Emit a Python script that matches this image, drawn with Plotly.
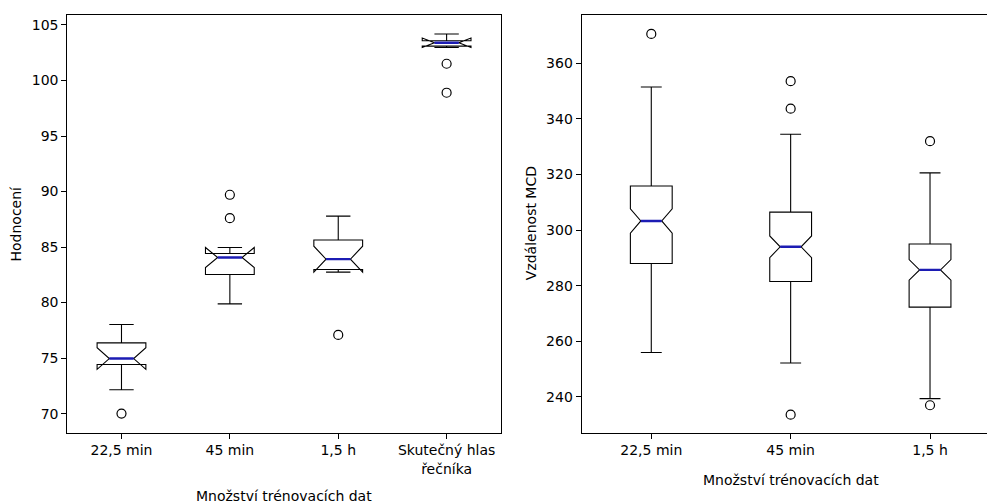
import plotly.graph_objects as go

# ---- Data (left panel: Hodnocení) ----
cats_left = ["22,5 min", "45 min", "1,5 h", "Skutečný hlas<br>řečníka"]
q1_left = [74.42, 82.53, 82.98, 103.1]
med_left = [74.96, 84.06, 83.91, 103.4]
q3_left = [76.37, 84.42, 85.63, 103.58]
lo_left = [72.15, 79.88, 82.75, 103.05]
hi_left = [78.03, 84.42, 87.79, 104.19]
notch_left = [0.97, 0.9, 1.17, 0.43]
out_left_x = ["22,5 min", "45 min", "45 min", "1,5 h",
              "Skutečný hlas<br>řečníka", "Skutečný hlas<br>řečníka"]
out_left_y = [70.0, 89.71, 87.6, 77.09, 101.51, 98.9]

# ---- Data (right panel: Vzdálenost MCD) ----
cats_right = ["22,5 min", "45 min", "1,5 h"]
q1_right = [288.0, 281.5, 272.3]
med_right = [303.3, 294.0, 285.7]
q3_right = [315.9, 306.5, 295.0]
lo_right = [256.0, 252.2, 239.4]
hi_right = [351.5, 334.5, 320.6]
notch_right = [4.4, 3.9, 3.7]
out_right_x = ["22,5 min", "45 min", "45 min", "45 min", "1,5 h", "1,5 h"]
out_right_y = [370.6, 353.6, 343.7, 233.6, 332.0, 237.0]

FONT = "DejaVu Sans"
FS = 14
MED_COLOR = "#1c1cb4"

fig = go.Figure()

def add_panel(xa, ya, cats, q1, med, q3, lo, hi, notch, ox, oy, width):
    fig.add_trace(go.Box(
        x=cats, q1=q1, median=med, q3=q3, lowerfence=lo, upperfence=hi,
        notched=True, notchspan=notch, notchwidth=0.25, whiskerwidth=0.5,
        width=width, line=dict(color="black", width=1.1),
        fillcolor="rgba(0,0,0,0)", boxpoints=False, showlegend=False,
        xaxis=xa, yaxis=ya, hoverinfo="skip"))
    # blue median line overlay
    fig.add_trace(go.Box(
        x=cats, q1=med, median=med, q3=med, lowerfence=med, upperfence=med,
        width=width / 2, whiskerwidth=0, line=dict(color=MED_COLOR, width=2.4),
        fillcolor="rgba(0,0,0,0)", boxpoints=False, showlegend=False,
        xaxis=xa, yaxis=ya, hoverinfo="skip"))
    fig.add_trace(go.Scatter(
        x=ox, y=oy, mode="markers",
        marker=dict(symbol="circle-open", size=9, color="black",
                    line=dict(width=1.2, color="black")),
        showlegend=False, xaxis=xa, yaxis=ya, hoverinfo="skip"))

add_panel("x", "y", cats_left, q1_left, med_left, q3_left, lo_left, hi_left,
          notch_left, out_left_x, out_left_y, 0.45)
add_panel("x2", "y2", cats_right, q1_right, med_right, q3_right, lo_right,
          hi_right, notch_right, out_right_x, out_right_y, 0.3)

W, H = 987, 503
ytop = 1 - 15 / H
ybot = 1 - 432.5 / H

axis_common = dict(showgrid=False, zeroline=False, showline=True,
                   linecolor="black", linewidth=1, ticks="outside",
                   ticklen=5, tickwidth=1, tickcolor="black", automargin=False,
                   tickfont=dict(family=FONT, size=FS, color="black"))

fig.update_layout(
    width=W, height=H,
    margin=dict(l=0, r=0, t=0, b=0),
    paper_bgcolor="white", plot_bgcolor="white",
    boxmode="overlay",
    font=dict(family=FONT, size=FS, color="black"),
    xaxis=dict(domain=[67.3 / W, 500.8 / W], type="category",
               categoryorder="array", categoryarray=cats_left,
               range=[-0.5, 3.5], mirror=True, anchor="y", **axis_common),
    yaxis=dict(domain=[ybot, ytop], range=[68.3, 105.9],
               tickvals=[70, 75, 80, 85, 90, 95, 100, 105],
               mirror=True, anchor="x", **axis_common),
    xaxis2=dict(domain=[581.6 / W, 1.0], type="category",
                categoryorder="array", categoryarray=cats_right,
                range=[-0.5, 2.5 - 12.7 / 139.3], mirror=True, anchor="y2",
                **axis_common),
    yaxis2=dict(domain=[ybot, ytop], range=[227.2, 377.4],
                tickvals=[240, 260, 280, 300, 320, 340, 360],
                mirror=False, anchor="x2", **axis_common),
)

ann_font = dict(family=FONT, size=FS, color="black")
fig.add_annotation(text="Množství trénovacích dat", xref="paper", yref="paper",
                   x=284 / W, y=1 - 495.5 / H, xanchor="center", yanchor="middle",
                   showarrow=False, font=ann_font)
fig.add_annotation(text="Množství trénovacích dat", xref="paper", yref="paper",
                   x=790.7 / W, y=1 - 480 / H, xanchor="center", yanchor="middle",
                   showarrow=False, font=ann_font)
fig.add_annotation(text="Hodnocení", xref="paper", yref="paper",
                   x=16 / W, y=1 - 223.5 / H, xanchor="center", yanchor="middle",
                   textangle=-90, showarrow=False, font=ann_font)
fig.add_annotation(text="Vzdálenost MCD", xref="paper", yref="paper",
                   x=531.7 / W, y=1 - 223.5 / H, xanchor="center", yanchor="middle",
                   textangle=-90, showarrow=False, font=ann_font)

fig.write_html("out.html", config={"displayModeBar": False},
               post_script="document.body.style.margin='0';"
                           "document.body.style.overflow='hidden';")
